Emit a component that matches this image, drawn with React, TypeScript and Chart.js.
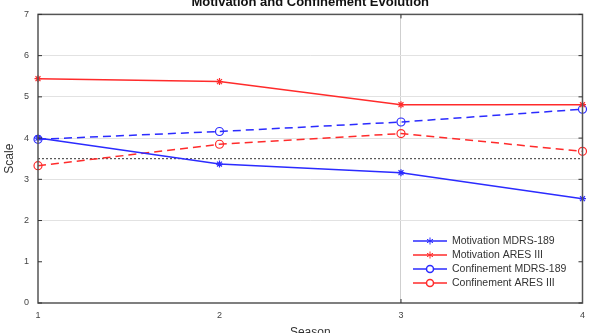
import React, { useEffect, useRef } from "react";
import { Chart, registerables } from "chart.js";

Chart.register(...registerables);

const seasons = ["1", "2", "3", "4"];
const motivationMDRS = [4.0, 3.37, 3.16, 2.53];
const motivationARES = [5.44, 5.37, 4.81, 4.81];
const confinementMDRS = [3.97, 4.16, 4.39, 4.7];
const confinementARES = [3.33, 3.85, 4.11, 3.68];
const midline = [3.5, 3.5, 3.5, 3.5];
const yTicks = [0, 1, 2, 3, 4, 5, 6, 7];

const BLUE = "#2b2bff";
const RED = "#ff2b2b";
const FONT = "'Liberation Sans', Arial, Helvetica, sans-serif";

const legendItems = [
  { label: "Motivation MDRS-189", color: BLUE, marker: "star" },
  { label: "Motivation ARES III", color: RED, marker: "star" },
  { label: "Confinement MDRS-189", color: BLUE, marker: "circle" },
  { label: "Confinement ARES III", color: RED, marker: "circle" },
];

const decorations = {
  id: "decorations",
  afterDraw(chart: any) {
    const { ctx, chartArea } = chart;
    const { left, right, top, bottom } = chartArea;
    const xs = chart.scales.x;
    const ys = chart.scales.y;
    ctx.save();

    // axes box
    ctx.strokeStyle = "#555";
    ctx.lineWidth = 1.5;
    ctx.strokeRect(left, top, right - left, bottom - top);

    // inward tick marks
    ctx.lineWidth = 1;
    ctx.strokeStyle = "#333";
    yTicks.forEach((v) => {
      const y = ys.getPixelForValue(v);
      ctx.beginPath();
      ctx.moveTo(left, y);
      ctx.lineTo(left + 4, y);
      ctx.moveTo(right, y);
      ctx.lineTo(right - 4, y);
      ctx.stroke();
    });
    const x3 = xs.getPixelForValue(2);
    ctx.beginPath();
    ctx.moveTo(x3, top);
    ctx.lineTo(x3, top + 4);
    ctx.moveTo(x3, bottom);
    ctx.lineTo(x3, bottom - 4);
    ctx.stroke();

    // title and axis titles
    ctx.fillStyle = "#111";
    ctx.font = `bold 13px ${FONT}`;
    ctx.textAlign = "center";
    ctx.textBaseline = "middle";
    ctx.fillText("Motivation and Confinement Evolution", (left + right) / 2, 2);

    ctx.fillStyle = "#333";
    ctx.font = `12px ${FONT}`;
    ctx.fillText("Season", (left + right) / 2, 333);

    ctx.save();
    ctx.translate(10, (top + bottom) / 2);
    ctx.rotate(-Math.PI / 2);
    ctx.fillText("Scale", 0, 0);
    ctx.restore();

    // legend
    const lx0 = 413;
    const lx1 = 447;
    const rowY = [241, 255, 269, 283];
    ctx.font = `10.5px ${FONT}`;
    ctx.textAlign = "left";
    legendItems.forEach((item, i) => {
      const y = rowY[i];
      ctx.strokeStyle = item.color;
      ctx.lineWidth = 1.5;
      ctx.beginPath();
      ctx.moveTo(lx0, y);
      ctx.lineTo(lx1, y);
      ctx.stroke();
      const cx = (lx0 + lx1) / 2;
      if (item.marker === "circle") {
        ctx.fillStyle = "#fff";
        ctx.beginPath();
        ctx.arc(cx, y, 3.5, 0, Math.PI * 2);
        ctx.fill();
        ctx.stroke();
      } else {
        ctx.lineWidth = 1;
        ctx.beginPath();
        for (let k = 0; k < 3; k++) {
          const a = (k * Math.PI) / 3 + Math.PI / 2;
          ctx.moveTo(cx - 3.5 * Math.cos(a), y - 3.5 * Math.sin(a));
          ctx.lineTo(cx + 3.5 * Math.cos(a), y + 3.5 * Math.sin(a));
        }
        ctx.stroke();
      }
      ctx.fillStyle = "#333";
      ctx.fillText(item.label, 452, y + 0.5);
    });

    ctx.restore();
  },
};

export default function App() {
  const ref = useRef<HTMLCanvasElement>(null);

  useEffect(() => {
    if (!ref.current) return;
    const common = { borderWidth: 1.5, pointBorderWidth: 1.2, tension: 0 };
    const chart = new Chart(ref.current, {
      type: "line",
      data: {
        labels: seasons,
        datasets: [
          {
            label: "Motivation MDRS-189",
            data: motivationMDRS,
            borderColor: BLUE,
            backgroundColor: BLUE,
            pointStyle: "star",
            pointRadius: 3.5,
            ...common,
          },
          {
            label: "Motivation ARES III",
            data: motivationARES,
            borderColor: RED,
            backgroundColor: RED,
            pointStyle: "star",
            pointRadius: 3.5,
            ...common,
          },
          {
            label: "Confinement MDRS-189",
            data: confinementMDRS,
            borderColor: BLUE,
            backgroundColor: "rgba(255,255,255,0)",
            borderDash: [8, 5],
            pointStyle: "circle",
            pointRadius: 4,
            ...common,
          },
          {
            label: "Confinement ARES III",
            data: confinementARES,
            borderColor: RED,
            backgroundColor: "rgba(255,255,255,0)",
            borderDash: [8, 5],
            pointStyle: "circle",
            pointRadius: 4,
            ...common,
          },
          {
            label: "Threshold",
            data: midline,
            borderColor: "#333",
            borderWidth: 1,
            borderDash: [2, 2],
            pointRadius: 0,
          },
        ],
      },
      options: {
        animation: false,
        responsive: false,
        maintainAspectRatio: false,
        layout: { padding: { top: 14, right: 7, left: 0, bottom: 0 } },
        plugins: {
          legend: { display: false },
          tooltip: { enabled: false },
          title: { display: false },
        },
        scales: {
          x: {
            type: "category",
            offset: false,
            afterFit: (s: any) => {
              s.height = 30;
            },
            grid: {
              drawTicks: false,
              color: (c: any) => (c.index === 2 ? "#cfcfcf" : "rgba(0,0,0,0)"),
              lineWidth: 1,
            },
            border: { display: false },
            ticks: {
              padding: 7,
              color: "#444",
              font: { family: FONT, size: 9 },
              maxRotation: 0,
            },
          },
          y: {
            min: 0,
            max: 7,
            afterFit: (s: any) => {
              s.width = 38;
            },
            afterBuildTicks: (s: any) => {
              s.ticks = yTicks.map((v) => ({ value: v }));
            },
            grid: {
              drawTicks: false,
              color: (c: any) => {
                const v = c.tick ? c.tick.value : -1;
                return v >= 2 && v <= 6 ? "#e2e2e2" : "rgba(0,0,0,0)";
              },
              lineWidth: 1,
            },
            border: { display: false },
            ticks: {
              padding: 9,
              color: "#444",
              font: { family: FONT, size: 9 },
            },
          },
        },
      },
      plugins: [decorations],
    });
    return () => chart.destroy();
  }, []);

  return (
    <div style={{ position: "fixed", left: 0, top: 0, width: 592, height: 333, background: "#fff" }}>
      <canvas ref={ref} width={592} height={333} style={{ display: "block" }} />
    </div>
  );
}
